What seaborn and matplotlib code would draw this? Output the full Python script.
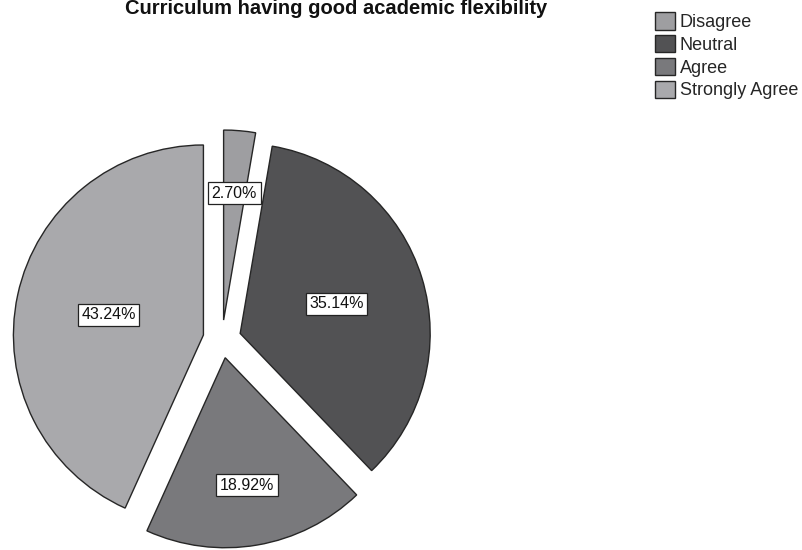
"""Pie chart: Curriculum having good academic flexibility."""

import matplotlib
matplotlib.use("Agg")

import matplotlib.pyplot as plt
import numpy as np
import seaborn as sns

title = "Curriculum having good academic flexibility"
categories = ["Disagree", "Neutral", "Agree", "Strongly Agree"]
percentages = [2.70, 35.14, 18.92, 43.24]

colors = ["#9e9ea1", "#525254", "#79797c", "#a9a9ac"]
explode = [0.1, 0.1, 0.1, 0.1]
label_radius = [0.67, 0.53, 0.68, 0.51]

sns.set_theme(style="white")
plt.rcParams["font.family"] = ["Liberation Sans", "DejaVu Sans"]

W, H = 803, 550
fig = plt.figure(figsize=(W / 100, H / 100), dpi=100)

# pie centre ~(222, 339) px, radius ~190 px
r_px, cx_px, cy_px = 190, 222, 339
half = 1.2 * r_px
ax = fig.add_axes([(cx_px - half) / W, (H - cy_px - half) / H, 2 * half / W, 2 * half / H])

wedges, _ = ax.pie(
    percentages,
    colors=colors,
    explode=explode,
    startangle=90,
    counterclock=False,
    wedgeprops=dict(edgecolor="#262626", linewidth=1.0),
)
ax.set_xlim(-1.2, 1.2)
ax.set_ylim(-1.2, 1.2)
ax.set_aspect("equal")

for w, pct, lr in zip(wedges, percentages, label_radius):
    ang = np.deg2rad((w.theta1 + w.theta2) / 2)
    x0, y0 = w.center
    ax.text(x0 + lr * np.cos(ang), y0 + lr * np.sin(ang), f"{pct:.2f}%",
            ha="center", va="center", fontsize=11.5, color="#111111",
            bbox=dict(boxstyle="square,pad=0.22", fc="white", ec="#222222", lw=0.9))

fig.text(125 / W, 1 - 14 / H, title, ha="left", va="baseline",
         fontsize=14.5, fontweight="bold", color="#111111")

fig.legend(wedges, categories, loc="upper left", bbox_to_anchor=(648 / W, 1 - 5 / H),
           frameon=False, fontsize=13, handlelength=1.1, handleheight=1.1,
           handletextpad=0.25, labelspacing=0.22, borderaxespad=0)

plt.savefig("out.png", dpi=100)
plt.close()
